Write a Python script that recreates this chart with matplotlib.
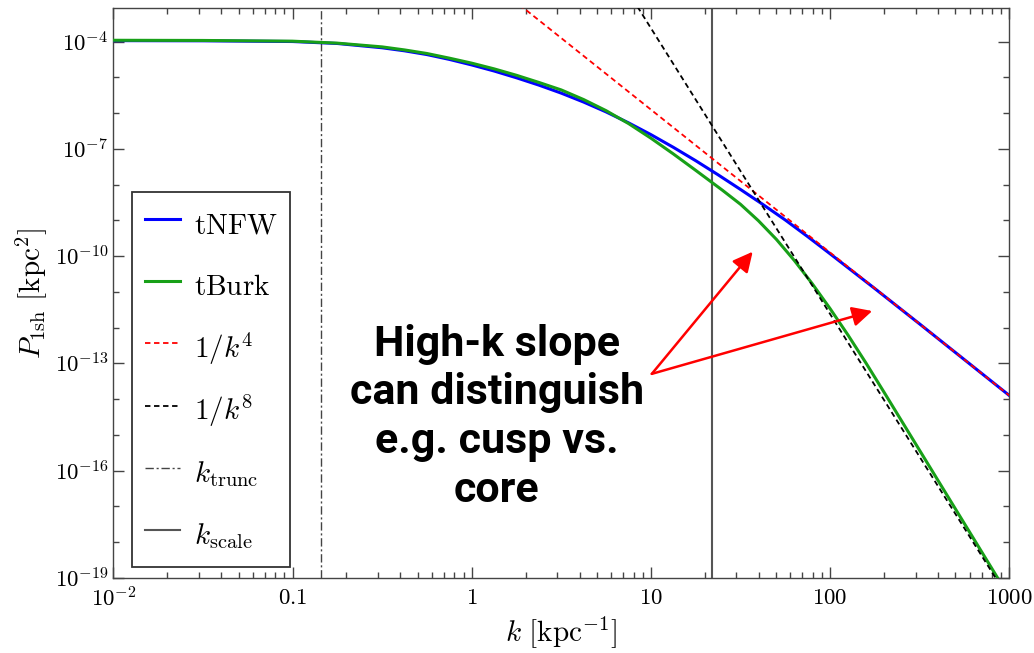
import numpy as np
import matplotlib
matplotlib.use("Agg")
import matplotlib.pyplot as plt
from matplotlib.ticker import FixedLocator, FixedFormatter, NullFormatter, LogLocator

plt.rcParams["mathtext.fontset"] = "cm"
plt.rcParams["font.family"] = ["DejaVu Serif"]

# one-subhalo power spectrum, log10 k [kpc^-1] vs log10 P [kpc^2]
log_k_nfw = [-2.0, -1.5, -1.0, -0.75, -0.5, -0.375, -0.25, -0.125, 0.0, 0.125,
             0.25, 0.375, 0.5, 0.625, 0.75, 0.875, 1.0, 1.125, 1.25, 1.375,
             1.5, 1.625, 1.75, 1.875, 2.0, 2.25, 2.5, 2.75, 3.0]
log_p_nfw = [-3.97, -3.975, -3.995, -4.05, -4.17, -4.255, -4.36, -4.495, -4.65, -4.82,
             -5.01, -5.215, -5.44, -5.69, -5.965, -6.27, -6.60, -6.955, -7.33, -7.725,
             -8.135, -8.555, -8.99, -9.455, -9.935, -10.91, -11.90, -12.90, -13.90]

log_k_burk = [-2.0, -1.5, -1.0, -0.75, -0.5, -0.375, -0.25, -0.125, 0.0, 0.125,
              0.25, 0.375, 0.5, 0.625, 0.75, 0.875, 1.0, 1.125, 1.25, 1.4,
              1.5, 1.6, 1.7, 1.8, 1.9, 2.0, 2.1, 2.2, 2.3, 2.4,
              2.5, 2.6, 2.7, 2.8, 2.9, 3.0]
log_p_burk = [-3.96, -3.965, -3.985, -4.04, -4.145, -4.23, -4.33, -4.46, -4.60, -4.76,
              -4.94, -5.14, -5.35, -5.62, -5.93, -6.29, -6.70, -7.14, -7.60, -8.16,
              -8.55, -9.01, -9.53, -10.12, -10.77, -11.47, -12.21, -12.99, -13.80, -14.62,
              -15.44, -16.26, -17.08, -17.90, -18.72, -19.54]

# power-law guides (end points)
k_pow4 = [1.0, 1000.0]
p_pow4 = [10 ** -1.9, 10 ** -13.9]
k_pow8 = [1.0, 1000.0]
p_pow8 = [10 ** 4.38, 10 ** -19.62]

# characteristic scales [kpc^-1]
k_trunc = 0.1445
k_scale = 21.8

x_ticks = [1e-2, 1e-1, 1, 10, 100, 1000]
x_tick_labels = [r"$10^{-2}$", r"$0.1$", r"$1$", r"$10$", r"$100$", r"$1000$"]
y_ticks = [1e-19, 1e-16, 1e-13, 1e-10, 1e-7, 1e-4]
y_tick_labels = [r"$10^{-19}$", r"$10^{-16}$", r"$10^{-13}$", r"$10^{-10}$",
                 r"$10^{-7}$", r"$10^{-4}$"]

legend_labels = [r"$\mathrm{tNFW}$", r"$\mathrm{tBurk}$", r"$1/k^4$", r"$1/k^8$",
                 r"$k_{\mathrm{trunc}}$", r"$k_{\mathrm{scale}}$"]

note = "High-k slope\ncan distinguish\ne.g. cusp vs.\ncore"

fig = plt.figure(figsize=(10.34, 6.53), dpi=100)
ax = fig.add_axes([0.1096, 0.1153, 0.8665, 0.872])
ax.set_xscale("log")
ax.set_yscale("log")

k_nfw = 10 ** np.array(log_k_nfw)
p_nfw = 10 ** np.array(log_p_nfw)
k_burk = 10 ** np.array(log_k_burk)
p_burk = 10 ** np.array(log_p_burk)

h1, = ax.plot(k_nfw, p_nfw, color="#0000ff", lw=2.2, zorder=3)
h2, = ax.plot(k_burk, p_burk, color="#18a018", lw=2.2, zorder=4)
h3, = ax.plot(k_pow4, p_pow4, color="#ff0000", lw=1.3, ls=(0, (3, 2)), zorder=5)
h4, = ax.plot(k_pow8, p_pow8, color="#000000", lw=1.3, ls=(0, (3, 2)), zorder=5)
h5 = ax.axvline(k_trunc, color="#444444", lw=1.0, ls=(0, (6, 2, 1.5, 2)), zorder=2)
h6 = ax.axvline(k_scale, color="#555555", lw=1.5, zorder=2)

ax.set_xlim(1e-2, 1e3)
ax.set_ylim(1e-19, 10 ** -3.065)

ax.xaxis.set_major_locator(FixedLocator(x_ticks))
ax.xaxis.set_major_formatter(FixedFormatter(x_tick_labels))
ax.xaxis.set_minor_locator(LogLocator(base=10, subs=np.arange(2, 10), numticks=30))
ax.xaxis.set_minor_formatter(NullFormatter())
ax.yaxis.set_major_locator(FixedLocator(y_ticks))
ax.yaxis.set_major_formatter(FixedFormatter(y_tick_labels))
ax.yaxis.set_minor_locator(LogLocator(base=10, subs=(1.0,), numticks=40))
ax.yaxis.set_minor_formatter(NullFormatter())

ax.tick_params(which="both", direction="in", top=True, right=True,
               color="#444444", width=1.0, labelsize=16.5)
ax.tick_params(which="major", length=8)
ax.tick_params(which="minor", length=4.5)
ax.tick_params(axis="x", pad=7)
ax.tick_params(axis="y", pad=3.5)
for s in ax.spines.values():
    s.set_color("#444444")
    s.set_linewidth(1.0)

ax.set_xlabel(r"$k\ [\mathrm{kpc}^{-1}]$", fontsize=21, labelpad=2)
ax.set_ylabel(r"$P_{\mathrm{1sh}}\ [\mathrm{kpc}^{2}]$", fontsize=21, labelpad=4)

leg = ax.legend([h1, h2, h3, h4, h5, h6], legend_labels, loc="lower left",
                bbox_to_anchor=(0.0212, 0.0193), borderaxespad=0, fontsize=21,
                frameon=True, fancybox=False, edgecolor="black",
                handlelength=1.2, handleheight=1.6, handletextpad=0.45,
                labelspacing=0.85, borderpad=0.45)
leg.get_frame().set_linewidth(1.3)

ax.text(0.428, 0.282, note, transform=ax.transAxes, ha="center", va="center",
        multialignment="center", fontsize=31, fontweight="bold",
        family=["Roboto", "DejaVu Sans"], linespacing=1.24, zorder=6)

arrow_tail = (0.601, 0.358)
arrow_tips = [(0.7136, 0.5725), (0.847, 0.4684)]
for tip in arrow_tips:
    ax.annotate("", xy=tip, xytext=arrow_tail, xycoords="axes fraction",
                textcoords="axes fraction",
                arrowprops=dict(arrowstyle="-|>,head_length=0.6,head_width=0.3",
                                color="#ff0000", lw=1.8, shrinkA=0, shrinkB=0,
                                mutation_scale=20),
                zorder=6)

fig.savefig("out.png", dpi=100)
